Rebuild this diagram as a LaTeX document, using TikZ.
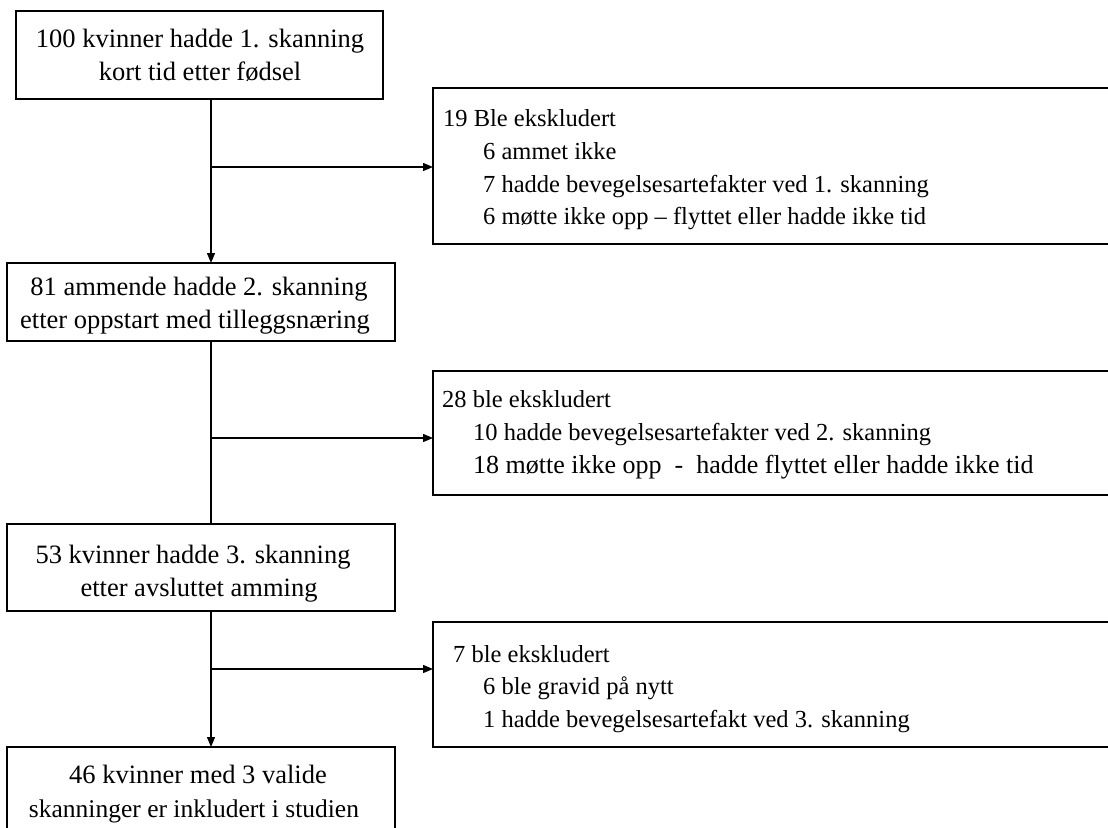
\documentclass[tikz,border=0pt]{standalone}
\usepackage{fontspec}
\setmainfont{Liberation Serif}
\usetikzlibrary{arrows.meta}

\tikzset{
	flowbox/.style={draw, line width=1.3pt, inner sep=0pt, outer sep=0pt, anchor=north west},
	flowline/.style={line width=1.3pt},
	flowarrow/.style={line width=1.3pt, -{Triangle[length=10pt,width=8pt]}},
	txt/.style={anchor=base west, inner sep=0pt, font=\fontsize{24.5}{33}\selectfont},
	ctxt/.style={anchor=base, inner sep=0pt, font=\fontsize{26.5}{33}\selectfont}
}

\begin{document}
\begin{tikzpicture}[x=1pt, y=-1pt]
		\clip (0,0) rectangle (1108,827);
		
		\node[flowbox, minimum width=367pt, minimum height=88pt] (scan1) at (16,11) {};
		\node[flowbox, minimum width=388pt, minimum height=78pt] (scan2) at (7,263) {};
		\node[flowbox, minimum width=388pt, minimum height=87pt] (scan3) at (7,524) {};
		\node[flowbox, minimum width=388pt, minimum height=120pt] (final) at (7,747) {};
		
		\node[flowbox, minimum width=800pt, minimum height=156pt] (excl1) at (433,88) {};
		\node[flowbox, minimum width=800pt, minimum height=124pt] (excl2) at (433,371) {};
		\node[flowbox, minimum width=800pt, minimum height=125pt] (excl3) at (433,622) {};
		
		
		\node[ctxt] (s1a) at (200,47) {100 kvinner hadde 1. skanning};
		\node[ctxt] (s1b) at (200,80) {kort tid etter fødsel};
		
		\node[ctxt] (s2a) at (199,295) {81 ammende hadde 2. skanning};
		\node[ctxt] (s2b) at (195,328) {etter oppstart med tilleggsnæring};
		
		\node[ctxt] (s3a) at (193,563) {53 kvinner hadde 3. skanning};
		\node[ctxt] (s3b) at (199,596) {etter avsluttet amming};
		
		\node[ctxt] (fa) at (198,783) {46 kvinner med 3 valide};
		\node[ctxt, font=\fontsize{25.5}{33}\selectfont] (fb) at (194,817) {skanninger er inkludert i studien};
		
		\node[txt] (e1a) at (443,126) {19 Ble ekskludert};
		\node[txt] (e1b) at (483,159) {6 ammet ikke};
		\node[txt] (e1c) at (483,192) {7 hadde bevegelsesartefakter ved 1. skanning};
		\node[txt] (e1d) at (483,224) {6 møtte ikke opp – flyttet eller hadde ikke tid};
		
		\node[txt] (e2a) at (442,407) {28 ble ekskludert};
		\node[txt] (e2b) at (473,440) {10 hadde bevegelsesartefakter ved 2. skanning};
		\node[txt, font=\fontsize{26}{33}\selectfont] (e2c) at (473,473)
			{18 møtte ikke opp \ - \ hadde flyttet eller hadde ikke tid};
		
		\node[txt] (e3a) at (453,662) {7 ble ekskludert};
		\node[txt] (e3b) at (483,694) {6 ble gravid på nytt};
		\node[txt] (e3c) at (483,727) {1 hadde bevegelsesartefakt ved 3. skanning};
		
		
		\coordinate (trunk) at (211,0);
		\coordinate (split1) at (211,167);
		\coordinate (split2) at (211,438);
		\coordinate (split3) at (211,669);
		
		\draw[flowarrow] (scan1.south -| trunk) -- (scan2.north -| trunk);
		\draw[flowline] (scan2.south -| trunk) -- (scan3.north -| trunk);
		\draw[flowarrow] (scan3.south -| trunk) -- (final.north -| trunk);
		
		\draw[flowarrow] (split1) -- (split1 -| excl1.west);
		\draw[flowarrow] (split2) -- (split2 -| excl2.west);
		\draw[flowarrow] (split3) -- (split3 -| excl3.west);
\end{tikzpicture}
\end{document}
